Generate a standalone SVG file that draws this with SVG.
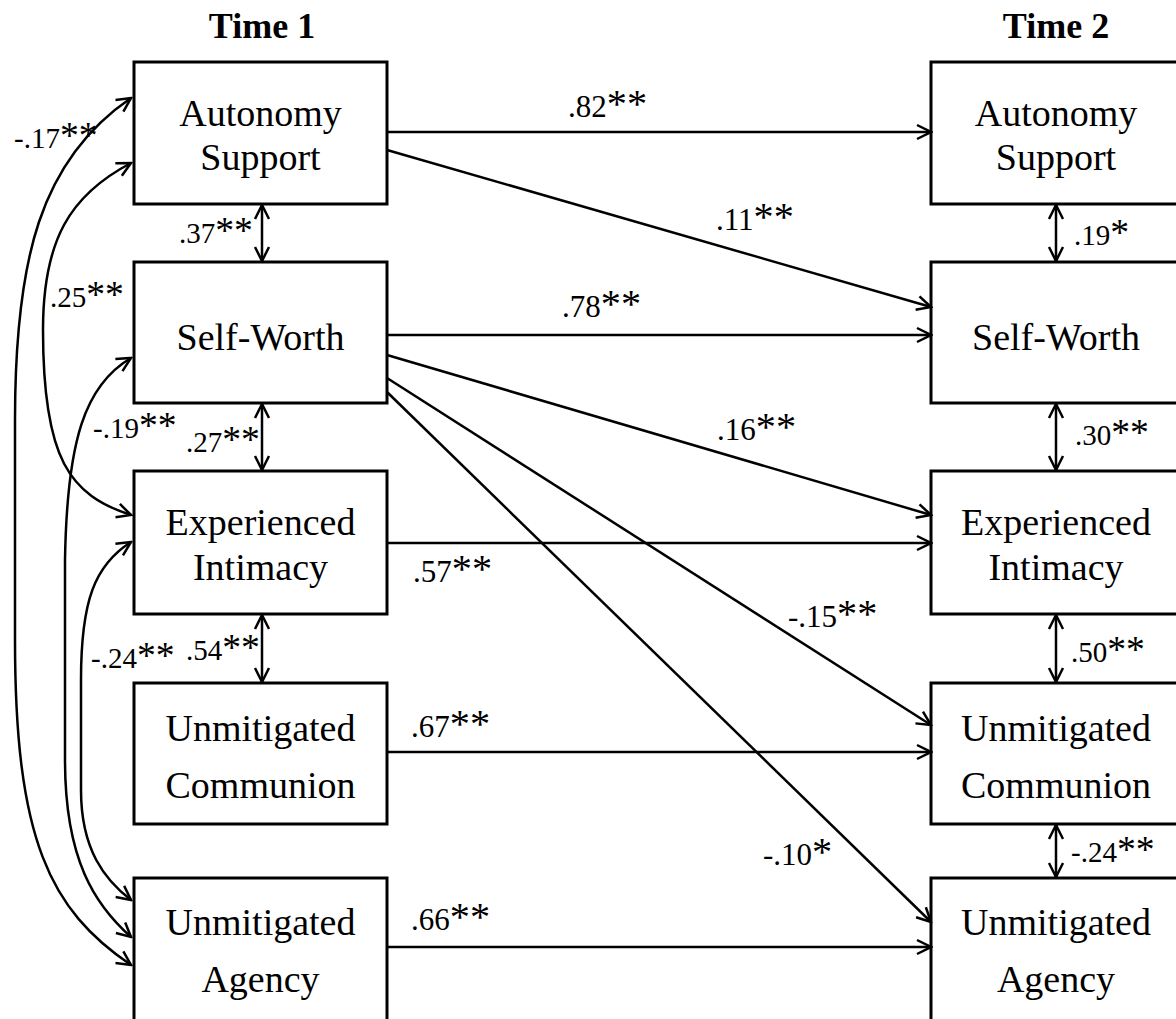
<svg xmlns="http://www.w3.org/2000/svg" width="1176" height="1019" viewBox="0 0 1176 1019">
<style>
.box{fill:#fff;stroke:#000;stroke-width:3}
.t{font-family:"Liberation Serif","Times New Roman",serif;font-size:38px;text-anchor:middle;fill:#000}
.h{font-family:"Liberation Serif","Times New Roman",serif;font-size:36px;font-weight:bold;text-anchor:middle;fill:#000}
.l{font-family:"Liberation Serif","Times New Roman",serif;font-size:31px;fill:#000}
.s{font-size:1.3em}
.c{fill:none;stroke:#000;stroke-width:2.5}
</style>
<defs>
<marker id="a" markerUnits="userSpaceOnUse" markerWidth="18" markerHeight="18" viewBox="0 0 18 18" refX="16" refY="9" orient="auto-start-reverse">
<path d="M2,2 L16,9 L2,16" fill="none" stroke="#000" stroke-width="2.5"/>
</marker>
</defs>
<text class="h" x="262" y="38">Time 1</text>
<text class="h" x="1056" y="38">Time 2</text>
<g id="t1-autonomy"><rect class="box" x="134" y="62" width="253" height="142"/><text class="t" x="260.5" y="126">Autonomy</text><text class="t" x="260.5" y="170">Support</text></g>
<g id="t1-selfworth"><rect class="box" x="134" y="262" width="253" height="141"/><text class="t" x="260.5" y="350">Self-Worth</text></g>
<g id="t1-intimacy"><rect class="box" x="134" y="471" width="253" height="143"/><text class="t" x="260.5" y="535">Experienced</text><text class="t" x="260.5" y="580">Intimacy</text></g>
<g id="t1-communion"><rect class="box" x="134" y="683" width="253" height="141"/><text class="t" x="260.5" y="741">Unmitigated</text><text class="t" x="260.5" y="798">Communion</text></g>
<g id="t1-agency"><rect class="box" x="134" y="878" width="253" height="160"/><text class="t" x="260.5" y="935">Unmitigated</text><text class="t" x="260.5" y="992">Agency</text></g>
<g id="t2-autonomy"><rect class="box" x="931" y="62" width="253" height="142"/><text class="t" x="1056" y="126">Autonomy</text><text class="t" x="1056" y="170">Support</text></g>
<g id="t2-selfworth"><rect class="box" x="931" y="262" width="253" height="141"/><text class="t" x="1056" y="350">Self-Worth</text></g>
<g id="t2-intimacy"><rect class="box" x="931" y="471" width="253" height="143"/><text class="t" x="1056" y="535">Experienced</text><text class="t" x="1056" y="580">Intimacy</text></g>
<g id="t2-communion"><rect class="box" x="931" y="683" width="253" height="141"/><text class="t" x="1056" y="741">Unmitigated</text><text class="t" x="1056" y="798">Communion</text></g>
<g id="t2-agency"><rect class="box" x="931" y="878" width="253" height="160"/><text class="t" x="1056" y="935">Unmitigated</text><text class="t" x="1056" y="992">Agency</text></g>
<g id="connectors">
<path class="c" marker-end="url(#a)" d="M387,132 L931,132"/>
<path class="c" marker-end="url(#a)" d="M387,150 L931,307"/>
<path class="c" marker-end="url(#a)" d="M387,335 L931,335"/>
<path class="c" marker-end="url(#a)" d="M387,355 L931,515"/>
<path class="c" marker-end="url(#a)" d="M387,378 L931,725"/>
<path class="c" marker-end="url(#a)" d="M387,392 L931,922"/>
<path class="c" marker-end="url(#a)" d="M387,543 L931,543"/>
<path class="c" marker-end="url(#a)" d="M387,752 L931,752"/>
<path class="c" marker-end="url(#a)" d="M387,947 L931,947"/>
<path class="c" marker-start="url(#a)" marker-end="url(#a)" d="M262,205 L262,261"/>
<path class="c" marker-start="url(#a)" marker-end="url(#a)" d="M262,404 L262,470"/>
<path class="c" marker-start="url(#a)" marker-end="url(#a)" d="M262,615 L262,682"/>
<path class="c" marker-start="url(#a)" marker-end="url(#a)" d="M1056,205 L1056,261"/>
<path class="c" marker-start="url(#a)" marker-end="url(#a)" d="M1056,404 L1056,470"/>
<path class="c" marker-start="url(#a)" marker-end="url(#a)" d="M1056,615 L1056,682"/>
<path class="c" marker-start="url(#a)" marker-end="url(#a)" d="M1056,825 L1056,877"/>
<path class="c" marker-start="url(#a)" marker-end="url(#a)" d="M131,98 C40,160 15,260 15,420 L15,640 C15,840 50,910 131,965"/>
<path class="c" marker-start="url(#a)" marker-end="url(#a)" d="M131,163 C70,195 43,240 43,330 C43,460 70,495 131,515"/>
<path class="c" marker-start="url(#a)" marker-end="url(#a)" d="M131,358 C85,385 67,440 65,560 L65,760 C65,860 95,905 131,937"/>
<path class="c" marker-start="url(#a)" marker-end="url(#a)" d="M131,542 C95,565 81,600 81,680 L81,790 C81,850 105,880 131,900"/>
</g>
<g id="labels">
<text class="l" x="568" y="117">.82<tspan class="s">**</tspan></text>
<text class="l" x="716" y="230">.11<tspan class="s">**</tspan></text>
<text class="l" x="562" y="317">.78<tspan class="s">**</tspan></text>
<text class="l" x="717" y="440">.16<tspan class="s">**</tspan></text>
<text class="l" x="413" y="582">.57<tspan class="s">**</tspan></text>
<text class="l" x="788" y="627">-.15<tspan class="s">**</tspan></text>
<text class="l" x="411" y="737">.67<tspan class="s">**</tspan></text>
<text class="l" x="763" y="865">-.10<tspan class="s">*</tspan></text>
<text class="l" x="411" y="930">.66<tspan class="s">**</tspan></text>
<text class="l" x="179" y="243" style="font-size:29px">.37<tspan class="s">**</tspan></text>
<text class="l" x="186" y="452" style="font-size:29px">.27<tspan class="s">**</tspan></text>
<text class="l" x="186" y="660" style="font-size:29px">.54<tspan class="s">**</tspan></text>
<text class="l" x="1074" y="245" style="font-size:29px">.19<tspan class="s">*</tspan></text>
<text class="l" x="1075" y="445" style="font-size:29px">.30<tspan class="s">**</tspan></text>
<text class="l" x="1071" y="662" style="font-size:29px">.50<tspan class="s">**</tspan></text>
<text class="l" x="1071" y="862" style="font-size:29px">-.24<tspan class="s">**</tspan></text>
<text class="l" x="14" y="148" style="font-size:29px">-.17<tspan class="s">**</tspan></text>
<text class="l" x="50" y="307" style="font-size:29px">.25<tspan class="s">**</tspan></text>
<text class="l" x="93" y="438" style="font-size:29px">-.19<tspan class="s">**</tspan></text>
<text class="l" x="91" y="668" style="font-size:29px">-.24<tspan class="s">**</tspan></text>
</g>
</svg>
